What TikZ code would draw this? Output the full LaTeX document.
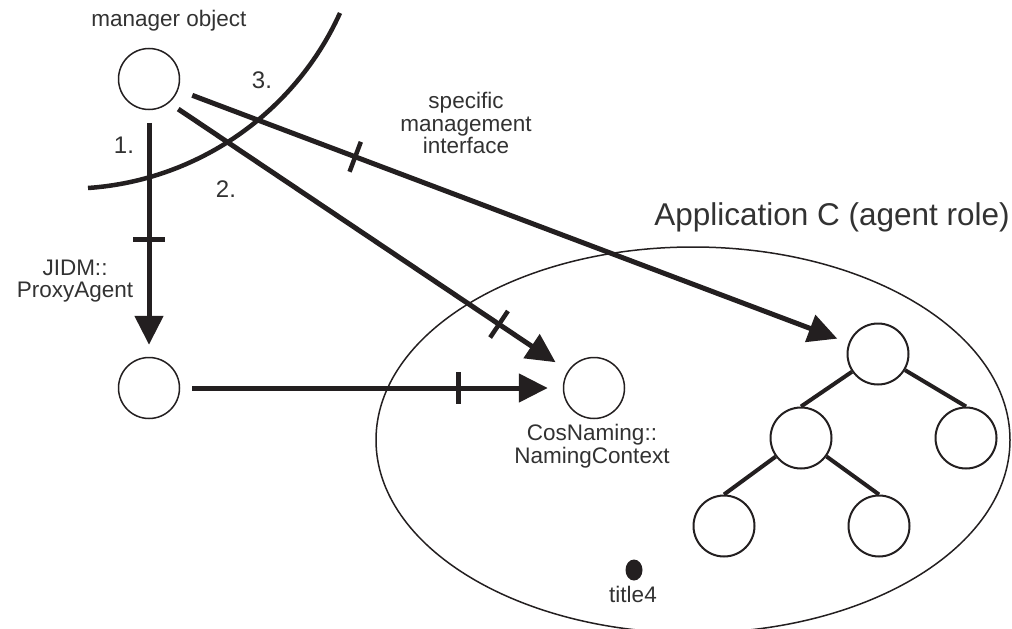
\documentclass[tikz,border=0pt]{standalone}
\usepackage{fontspec}
\setmainfont{Liberation Sans}
\usetikzlibrary{arrows.meta,shapes.geometric}
\definecolor{ink}{RGB}{35,31,32}
\definecolor{txt}{RGB}{50,50,50}
\begin{document}
\begin{tikzpicture}[x=1pt,y=-1pt,
  obj/.style={draw=ink, circle, line width=1.5pt, minimum size=61pt, inner sep=0pt},
  tobj/.style={draw=ink, circle, line width=2pt, minimum size=61pt, inner sep=0pt},
  lbl/.style={text=txt, font=\fontsize{22.5}{22.5}\selectfont, align=center, inner sep=0pt},
  num/.style={text=txt, font=\fontsize{24}{26}\selectfont, inner sep=0pt, anchor=base},
  conn/.style={draw=ink, line width=5pt, -{Triangle[length=29pt,width=28pt]}},
  tickmark/.style={sloped, fill=ink, inner sep=0pt, minimum width=4.5pt, minimum height=32pt},
  branch/.style={draw=ink, line width=4pt},
]
\useasboundingbox (0,0) rectangle (1012,629);

% application boundary
\node[draw=ink, ellipse, line width=1.5pt, minimum width=634pt, minimum height=386pt, inner sep=0pt] (app) at (693,440) {};
\node[anchor=base, text=txt, font=\fontsize{31.5}{34}\selectfont, inner sep=0pt] (appl) at (832,225) {Application C (agent role)};

% objects
\node[obj] (mgr) at (149,79) {};
\node[obj] (proxy) at (149,388) {};
\node[obj] (nc) at (594,388) {};
\node[tobj] (top) at (878,354) {};
\node[tobj] (ml) at (801,438) {};
\node[tobj] (rr) at (966,438) {};
\node[tobj] (bl) at (724,526) {};
\node[tobj] (br) at (879,526) {};
\node[fill=ink, ellipse, minimum width=17pt, minimum height=21pt, inner sep=0pt] (dot) at (634,570) {};

% labels
\node[lbl, anchor=base] (mo) at (169,26) {manager object};
\node[lbl] (smi) at (466,123) {specific\\management\\interface};
\node[lbl] (jidm) at (75,281) {JIDM::\\ProxyAgent};
\node[lbl] (cn) at (592,446) {CosNaming::\\NamingContext};
\node[lbl, anchor=base] (t4) at (633,602) {title4};
\node[num] (n1) at (124,153) {1.};
\node[num] (n2) at (226,197) {2.};
\node[num] (n3) at (262,88) {3.};

% domain boundary curve
\draw[ink, line width=4.5pt] (88,188) .. controls (197.5,180.5) and (294.7,113) .. (340,13);

% connectors
\draw[conn, shorten <=12.5pt, shorten >=12pt] (mgr) -- node[tickmark, pos=0.524]{} (proxy);
\draw[conn, shorten <=12pt, shorten >=15pt] (proxy) -- node[tickmark, pos=0.727]{} (nc);
\draw[conn, shorten <=11pt, shorten >=15pt] (mgr.-50) -- node[tickmark, pos=0.827]{} (nc);
\draw[conn, shorten <=15pt, shorten >=12pt] (mgr) -- node[tickmark, pos=0.264]{} (top);

% tree
\draw[branch] (top) -- (ml.north);
\draw[branch] (top) -- (rr.north);
\draw[branch] (ml) -- (bl.north);
\draw[branch] (ml) -- (br.north);
\end{tikzpicture}
\end{document}
